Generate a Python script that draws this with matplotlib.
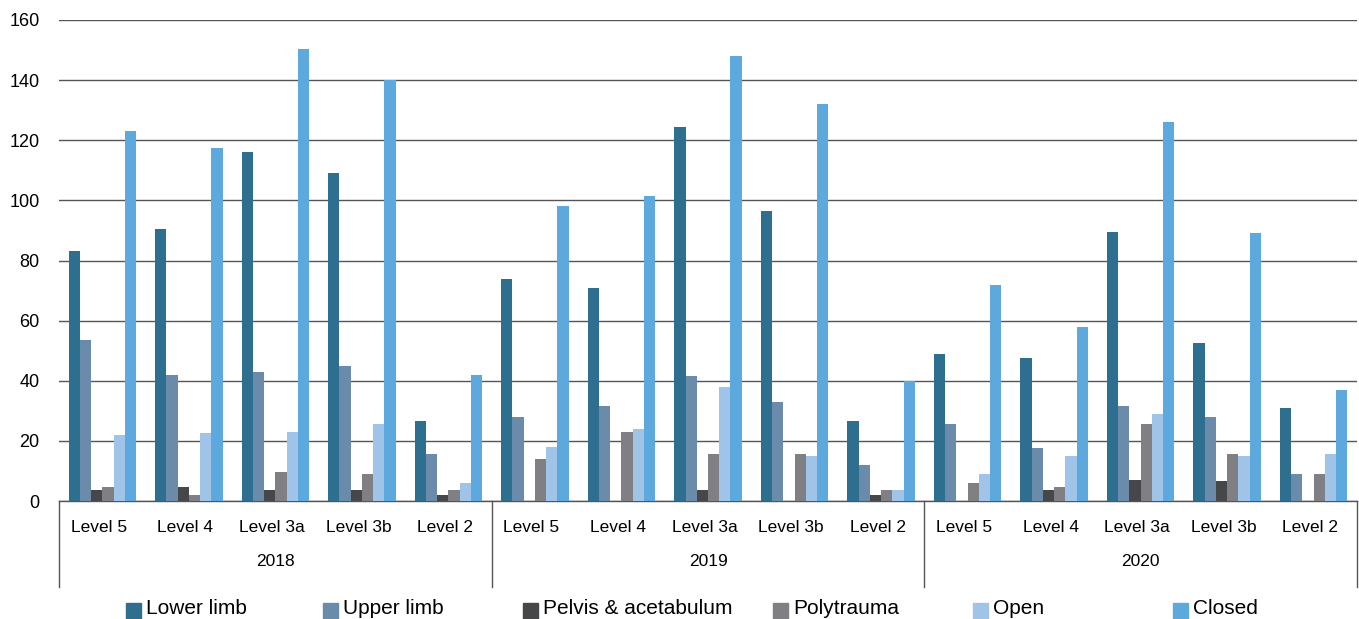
import numpy as np
import matplotlib.pyplot as plt
import matplotlib.patches as mpatches
import matplotlib.transforms as mtransforms

plt.rcParams['font.family'] = ['Liberation Sans', 'DejaVu Sans']

years = ['2018', '2019', '2020']
levels = ['Level 5', 'Level 4', 'Level 3a', 'Level 3b', 'Level 2']

# values, one per year/level group
lower_limb = [83, 90.5, 116, 109, 26.5, 74, 71, 124.5, 96.5, 26.5, 49, 47.5, 89.5, 52.5, 31]
upper_limb = [53.5, 42, 43, 45, 15.5, 28, 31.5, 41.5, 33, 12, 25.5, 17.5, 31.5, 28, 9]
pelvis = [3.5, 4.5, 3.5, 3.5, 2, 0, 0, 3.5, 0, 2, 0, 3.5, 7, 6.5, 0]
polytrauma = [4.5, 2, 9.5, 9, 3.5, 14, 23, 15.5, 15.5, 3.5, 6, 4.5, 25.5, 15.5, 9]
open_fx = [22, 22.5, 23, 25.5, 6, 18, 24, 38, 15, 3.5, 9, 15, 29, 15, 15.5]
closed_fx = [123, 117.5, 150.5, 140, 42, 98, 101.5, 148, 132, 40, 72, 58, 126, 89, 37]

series = [
    ('Lower limb', lower_limb, '#2E6E8E'),
    ('Upper limb', upper_limb, '#6A8CAA'),
    ('Pelvis & acetabulum', pelvis, '#464749'),
    ('Polytrauma', polytrauma, '#808084'),
    ('Open', open_fx, '#A0C4E8'),
    ('Closed', closed_fx, '#5DA9DE'),
]

fig = plt.figure(figsize=(13.59, 6.19), dpi=100)
ax = fig.add_axes([59 / 1359, 1 - 501 / 619, 1298 / 1359, 481 / 619])

x = np.arange(len(years) * len(levels))
w = 0.13
for i, (name, vals, col) in enumerate(series):
    ax.bar(x + (i - 2.5) * w, vals, width=w, color=col, zorder=3)

ax.set_xlim(-0.5, len(x) - 0.5)
ax.set_ylim(0, 160)
ax.set_yticks(np.arange(0, 161, 20))
ax.yaxis.grid(True, color='#555555', linewidth=1.0, zorder=0)
ax.set_axisbelow(True)
for s in ['top', 'right', 'left']:
    ax.spines[s].set_visible(False)
ax.spines['bottom'].set_color('#555555')
ax.spines['bottom'].set_linewidth(1.0)
ax.tick_params(axis='y', length=0, labelsize=13, pad=14)
ax.set_xticks([])

# two-level category axis
trans = mtransforms.blended_transform_factory(ax.transData, ax.transAxes)
lab_y = (501 - 528) / 481
year_y = (501 - 562) / 481
sep_y = (501 - 587) / 481
levs = levels * len(years)
for xi, lab in zip(x, levs):
    ax.text(xi - 0.04, lab_y, lab, transform=trans, ha='center', va='center', fontsize=12.5)
for k, yr in enumerate(years):
    ax.text(k * 5 + 2, year_y, yr, transform=trans, ha='center', va='center', fontsize=12.5)
for k in range(len(years) + 1):
    ax.plot([k * 5 - 0.5, k * 5 - 0.5], [0, sep_y], transform=trans, color='#555555',
            linewidth=1.0, clip_on=False)

# legend along the bottom edge
leg_x = [126, 323, 523, 773, 973, 1173]
for lx, (name, vals, col) in zip(leg_x, series):
    fig.patches.append(mpatches.Rectangle((lx / 1359, 0), 15 / 1359, 16 / 619,
                                          transform=fig.transFigure, color=col))
    fig.text((lx + 20) / 1359, 1 - 614 / 619, name, ha='left', va='baseline', fontsize=15)

fig.savefig('out.png', dpi=100)
